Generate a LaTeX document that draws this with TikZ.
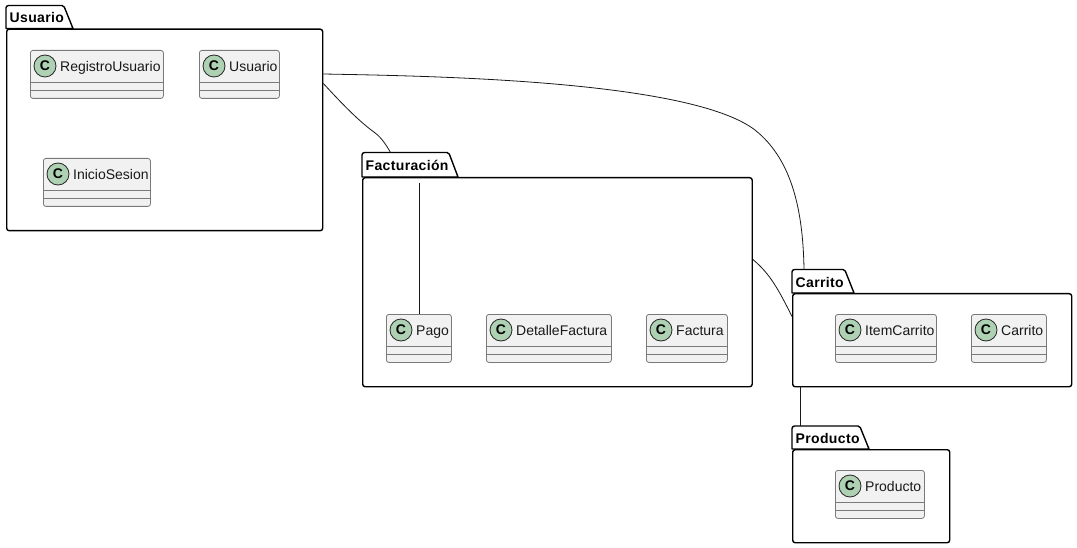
\documentclass[tikz,border=0pt]{standalone}
\usepackage{fontspec}
\setmainfont{Liberation Sans}
\newfontface\titleface[LetterSpace=2.5]{Liberation Sans Bold}
\tikzset{
  pkgbody/.style={draw=black,line width=1.4pt,rounded corners=2.5pt,fill=white,inner sep=0pt,anchor=north west},
  pkgtab/.style={draw=black,line width=1.4pt,fill=white,line join=round},
  pkgtitle/.style={font=\fontsize{14}{16}\titleface,inner sep=0pt,anchor=base west,text=black},
  classbox/.style={draw=black!52,line width=0.8pt,rounded corners=2.5pt,fill=black!5.5,inner sep=0pt,anchor=north west,minimum height=48pt},
  classrule/.style={draw=black!52,line width=0.8pt},
  classname/.style={font=\fontsize{14}{16}\selectfont,inner sep=0pt,anchor=base west,text=black!90},
  badge/.style={circle,draw=black!85,line width=0.8pt,fill=badgegreen,minimum size=22pt,inner sep=0pt,font=\fontsize{14}{14}\selectfont\bfseries},
  link/.style={draw=black!90,line width=0.8pt},
}
\definecolor{badgegreen}{HTML}{ADD1B2}
% name, text, left, right, top
\newcommand{\classitem}[5]{%
  \pgfmathsetlengthmacro{\cw}{(#4-#3)*1pt}%
  \node[classbox,minimum width=\cw] (#1) at (#3,#5) {};
  \node[badge] (#1badge) at (#3+15,#5+16) {C};
  \node[classname] (#1name) at (#3+30,#5+21.5) {#2};
  \draw[classrule] (#1.west |- 0,#5+32) -- (#1.east |- 0,#5+32);
  \draw[classrule] (#1.west |- 0,#5+40) -- (#1.east |- 0,#5+40);
}
% name, title, left, right, tabtop, bodytop, bottom, tabrighttop
\newcommand{\packageitem}[8]{%
  \draw[pkgtab] (#3,#6) -- (#3,#5+2.5) arc[start angle=180,end angle=270,radius=2.5] -- (#8-2.5,#5)
     arc[start angle=270,end angle=340,radius=2.5] -- (#8+8.5,#6) -- cycle;
  \pgfmathsetlengthmacro{\pw}{(#4-#3)*1pt}%
  \pgfmathsetlengthmacro{\ph}{(#7-#6)*1pt}%
  \node[pkgbody,minimum width=\pw,minimum height=\ph] (#1) at (#3,#6) {};
  \node[pkgtitle] (#1title) at (#3+3.5,#6-6) {#2};
}
\begin{document}
\begin{tikzpicture}[x=1pt,y=-1pt]
\useasboundingbox (0.5,0.5) rectangle (1077.5,548.5);
\fill[white] (0.5,0.5) rectangle (1077.5,548.5);

\packageitem{usuario}{Usuario}{6.5}{322.5}{6}{29}{230.5}{65}
\packageitem{facturacion}{Facturación}{362.5}{752}{153}{177.5}{386.5}{450}
\packageitem{carrito}{Carrito}{792.5}{1071.5}{270}{293.5}{386.5}{846}
\packageitem{producto}{Producto}{792.5}{949.5}{426.5}{449.5}{542.5}{861}

\classitem{registro}{RegistroUsuario}{30.5}{163.5}{50.5}
\classitem{usuarioc}{Usuario}{199.5}{279.5}{50.5}
\classitem{inicio}{InicioSesion}{43.5}{150.5}{158.5}
\classitem{pago}{Pago}{386.5}{451.5}{314.5}
\classitem{detalle}{DetalleFactura}{486.5}{611.5}{314.5}
\classitem{factura}{Factura}{646.5}{727.5}{314.5}
\classitem{item}{ItemCarrito}{835.5}{936.5}{314.5}
\classitem{carritoc}{Carrito}{971.5}{1046.5}{314.5}
\classitem{productoc}{Producto}{835.5}{924.5}{470.5}

\coordinate (pagostart) at (419.8,183.5);
\draw[link] (usuario.east |- 0,74.5) .. controls (430,76.5) and (690,80.5) .. (755.5,130.5)
   .. controls (790,158) and (803.5,205) .. (804.5,270);
\draw[link] (usuario.east |- 0,84) .. controls (345,107) and (360,122) .. (375,133)
   .. controls (382,138) and (387,146) .. (391,153);
\draw[link] (facturacion.east |- 0,260) .. controls (770,274) and (778,288) .. (792.5,317);
\draw[link] (801,386.5) -- (801,426.5);
\draw[link] (pagostart) -- (pagostart |- pago.north);
\end{tikzpicture}
\end{document}
